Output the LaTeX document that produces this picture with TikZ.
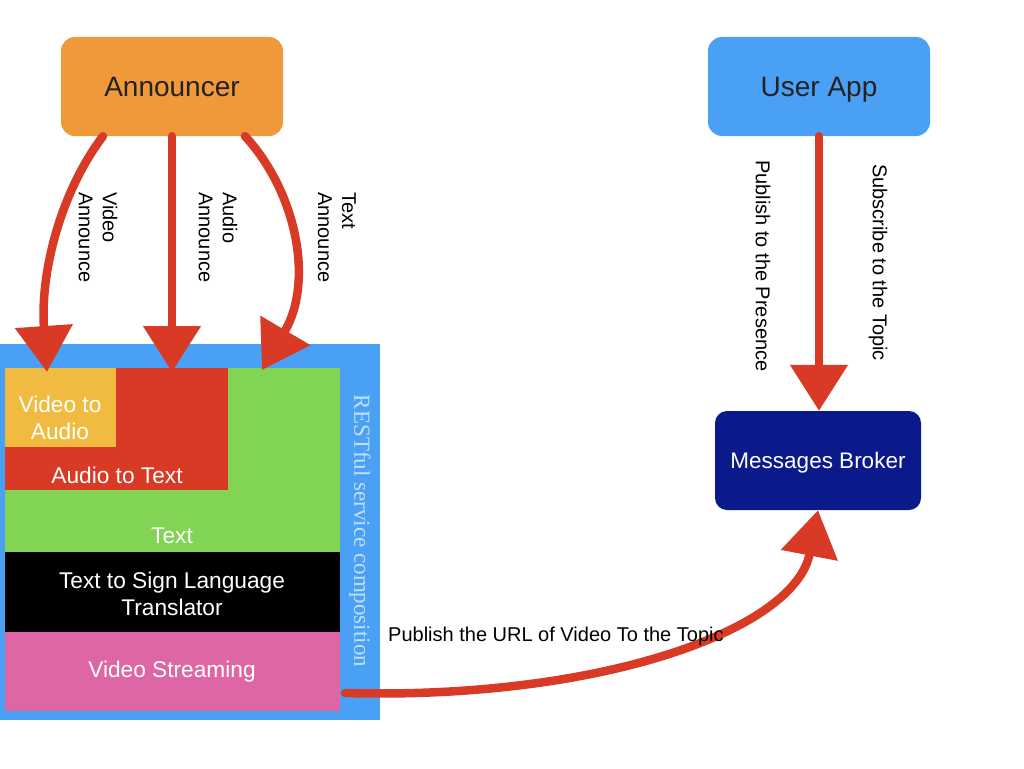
\documentclass[tikz,border=0pt]{standalone}
\usepackage{fontspec}
\setmainfont{Liberation Sans}
\newfontfamily\serifrm{Liberation Serif}
\usetikzlibrary{arrows.meta}
\definecolor{cOrange}{HTML}{F0993A}
\definecolor{cBlue}{HTML}{4AA0F5}
\definecolor{cRed}{HTML}{D93A26}
\definecolor{cYellow}{HTML}{F0BB40}
\definecolor{cGreen}{HTML}{82D455}
\definecolor{cPink}{HTML}{DE66A4}
\definecolor{cNavy}{HTML}{0B1A8A}
\definecolor{cDark}{HTML}{222222}
\definecolor{cLight}{HTML}{C2E0FA}
\tikzset{
  topbox/.style={rounded corners=14pt, minimum width=222pt, minimum height=99pt, inner sep=0pt, text=cDark, font=\fontsize{28}{32}\selectfont, text height=20pt, text depth=0pt},
  rect/.style={anchor=north west, inner sep=0pt, outer sep=0pt},
  wlbl/.style={text=white, font=\fontsize{22.7}{27}\selectfont, align=center, inner sep=0pt},
  vlbl/.style={rotate=-90, anchor=west, align=left, font=\fontsize{20}{24}\selectfont, inner sep=0pt},
  crayon/.style={draw=cRed, line width=8.5pt, line cap=round, -{Triangle[length=46pt,width=56pt]}},
}
\begin{document}
\begin{tikzpicture}[x=1pt,y=-1pt]
\useasboundingbox (0,0) rectangle (1024,768);
\fill[white] (0,0) rectangle (1024,768);
% top boxes
\node[topbox, fill=cOrange] (ann) at (172,86.5) {Announcer};
\node[topbox, fill=cBlue] (app) at (819,86.5) {User App};
\node[rounded corners=12pt, minimum width=206pt, minimum height=99pt, inner sep=0pt, fill=cNavy, text=white, font=\fontsize{22.5}{26}\selectfont, text height=16pt, text depth=0pt] (broker) at (818,460.5) {Messages Broker};
% composition
\node[rect, fill=cBlue, minimum width=380pt, minimum height=376pt] (comp) at (0,344) {};
\node[rect, fill=cGreen, minimum width=335pt, minimum height=184pt] (green) at (5,368) {};
\node[rect, fill=cRed, minimum width=223pt, minimum height=122pt] (red) at (5,368) {};
\node[rect, fill=cYellow, minimum width=111pt, minimum height=79pt] (yellow) at (5,368) {};
\node[rect, fill=black, minimum width=335pt, minimum height=80pt] (black) at (5,552) {};
\node[rect, fill=cPink, minimum width=335pt, minimum height=79pt] (pink) at (5,632) {};
\node[wlbl] (t1) at (60,418) {Video to\\Audio};
\node[wlbl] (t2) at (117,475) {Audio to Text};
\node[wlbl] (t3) at (172,536) {Text};
\node[wlbl] (t4) at (172,594) {Text to Sign Language\\Translator};
\node[wlbl] (t5) at (172,672) {Video Streaming};
\node[rotate=-90, text=cLight, font=\serifrm\fontsize{23}{27}\selectfont, inner sep=0pt] (rest) at (360,531) {RESTful service composition};
% endpoints
\coordinate (e1) at (47,372);
\coordinate (e2) at (172,372);
\coordinate (e3) at (262,370);
\coordinate (s4) at (345,693);
% arrows
\draw[crayon] (ann.south -| 103,0) .. controls (62,190) and (40,270) .. (e1);
\draw[crayon] (ann.south) -- (e2);
\draw[crayon] (ann.south -| 245,0) .. controls (295,190) and (315,280) .. (e3);
\draw[crayon] (app.south -| 819,0) -- (broker.north -| 819,0);
\draw[crayon] (s4) .. controls (600,700) and (795,630) .. (broker.south);
% labels
\node[vlbl] (l1) at (98,192) {Video\\Announce};
\node[vlbl] (l2) at (218,192) {Audio\\Announce};
\node[vlbl] (l3) at (337,192) {Text\\Announce};
\node[vlbl] (l4) at (763,160) {Publish to the Presence};
\node[vlbl] (l5) at (878,164) {Subscribe to the Topic};
\node[anchor=west, font=\fontsize{20}{24}\selectfont, inner sep=0pt] (l6) at (388,636) {Publish the URL of Video To the Topic};
\end{tikzpicture}
\end{document}
